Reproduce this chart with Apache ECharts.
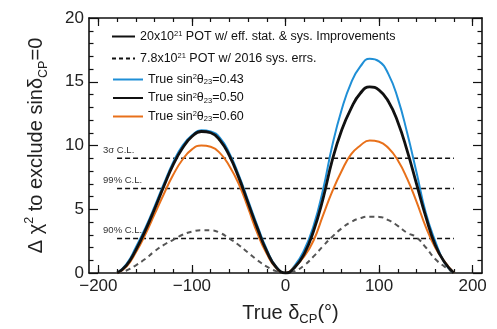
<!DOCTYPE html>
<html><head><meta charset="utf-8">
<script src="https://cdn.jsdelivr.net/npm/echarts@6/dist/echarts.min.js"></script>
<style>html,body{margin:0;padding:0;background:#fff;overflow:hidden}#c{width:497px;height:329px}</style>
</head><body><div id="c"></div>
<script>
// True delta_CP (degrees)
const delta = [-180,-170,-160,-150,-140,-130,-120,-110,-100,-90,-80,-70,-60,-50,-40,-30,-20,-10,0,10,20,30,40,50,60,70,80,90,100,110,120,130,140,150,160,170,180];
// 20x10^21 POT, true sin^2 theta23 = 0.43
const blue043 = [0,0.7,2.0,3.5,5.2,7.0,8.7,10.0,10.8,11.2,11.1,10.6,9.4,7.7,5.7,3.7,1.85,0.5,0,0.6,1.8,3.7,6.5,10.0,12.8,14.9,16.2,16.8,16.6,15.6,13.7,11.0,7.9,4.7,2.5,0.8,0];
// 20x10^21 POT, true sin^2 theta23 = 0.50
const black050 = [0,0.6,1.8,3.3,5.0,6.8,8.5,9.8,10.7,11.1,11.0,10.4,9.2,7.5,5.5,3.5,1.7,0.45,0,0.45,1.5,3.3,5.8,8.85,11.2,12.9,14.1,14.6,14.35,13.45,11.85,9.6,7.0,4.4,2.2,0.85,0];
// 20x10^21 POT, true sin^2 theta23 = 0.60
const orange060 = [0,0.5,1.6,3.0,4.6,6.2,7.7,8.9,9.7,10.0,9.9,9.4,8.4,7.0,5.1,3.1,1.5,0.4,0,0.5,1.3,2.55,4.5,6.4,8.0,9.3,10.0,10.4,10.3,9.8,8.85,7.4,5.6,3.6,2.0,0.9,0];
// 7.8x10^21 POT w/ 2016 sys. errs.
const dashed78 = [0,0.2,0.6,1.1,1.7,2.2,2.6,3.0,3.25,3.35,3.35,3.15,2.7,2.2,1.6,1.0,0.5,0.15,0,0.15,0.6,1.3,2.1,2.85,3.5,4.0,4.3,4.42,4.4,4.15,3.7,3.15,2.8,2.0,1.1,0.5,0];
// Confidence levels
const clLevels = [9, 6.63, 2.71];
const clLabels = ['3\u03c3 C.L.', '99% C.L.', '90% C.L.'];
const clRange = [-180, 180];
// Axis ticks
const xMajor = [-200,-100,0,100,200];
const xMinor = [-200,-180,-160,-140,-120,-100,-80,-60,-40,-20,0,20,40,60,80,100,120,140,160,180,200];
const legendNames = ['a','b','c','d','e'];
const legendTexts = [
  '20x10{sup|21} POT w/ eff. stat. & sys. Improvements',
  '7.8x10{sup|21} POT w/ 2016 sys. errs.',
  'True sin{sup|2}\u03b8{sub|23}=0.43',
  'True sin{sup|2}\u03b8{sub|23}=0.50',
  'True sin{sup|2}\u03b8{sub|23}=0.60'
];

const FONT = '"Liberation Sans", Arial, sans-serif';
const AX = '#111';
const pairs = arr => delta.map((d, i) => [d, arr[i]]);
const legendMap = {};
legendNames.forEach((n, i) => legendMap[n] = legendTexts[i]);
const legendRich = {
  sup: {fontSize: 7.5, verticalAlign: 'top', fontFamily: FONT, color: '#111', lineHeight: 13},
  sub: {fontSize: 7.5, verticalAlign: 'bottom', fontFamily: FONT, color: '#111', lineHeight: 13}
};

const series = [];
clLevels.forEach((lv, i) => {
  series.push({
    type: 'line', name: 'cl' + i, xAxisIndex: 0, yAxisIndex: 0,
    symbol: 'circle', symbolSize: 0.01, showSymbol: true, silent: true,
    lineStyle: {color: '#111', width: 1.5, type: [5, 3]},
    itemStyle: {color: '#111'},
    data: [
      {value: [clRange[0], lv], label: {show: true, formatter: clLabels[i], position: [-14, -13], fontSize: 9.5, fontFamily: FONT, color: '#333'}},
      {value: [clRange[1], lv]}
    ]
  });
});
series.push({type: 'line', name: 'a', data: [], symbol: 'none', lineStyle: {color: '#111', width: 1.5}, itemStyle: {color: '#111'}});
series.push({type: 'line', name: 'b', data: [], symbol: 'none', lineStyle: {color: '#111', width: 1.5, type: [4, 3]}, itemStyle: {color: '#111'}});
series.push({type: 'line', name: 'dash', data: pairs(dashed78), symbol: 'none', smooth: true, lineStyle: {color: '#555', width: 2, type: [5, 4]}});
series.push({type: 'line', name: 'c', data: pairs(blue043), symbol: 'none', smooth: true, lineStyle: {color: '#1f8fd6', width: 2}, itemStyle: {color: '#1f8fd6'}});
series.push({type: 'line', name: 'e', data: pairs(orange060), symbol: 'none', smooth: true, lineStyle: {color: '#e8701a', width: 2}, itemStyle: {color: '#e8701a'}});
series.push({type: 'line', name: 'd', data: pairs(black050), symbol: 'none', smooth: true, lineStyle: {color: '#111', width: 2.8}, itemStyle: {color: '#111'}});

const tickLS = {color: AX, width: 1.2};
function xAx(pos, len, ticks, main) {
  return {
    type: 'value', min: -210, max: 210, position: pos,
    axisLine: {show: main, onZero: false, lineStyle: {color: AX, width: 1.6}},
    axisTick: {show: true, inside: true, length: len, customValues: ticks, lineStyle: tickLS},
    axisLabel: main && pos === 'bottom' ? {show: true, customValues: xMajor, formatter: v => String(v).replace('-', '\u2212'), fontSize: 17, fontFamily: FONT, color: '#222', margin: 5} : {show: false},
    splitLine: {show: false},
    name: main && pos === 'bottom' ? 'True \u03b4{sub|CP}(\u00b0)' : '',
    nameLocation: 'middle', nameGap: 27,
    nameTextStyle: {fontSize: 20, fontFamily: FONT, color: '#222', padding: [0, 0, 0, 10],
      rich: {sub: {fontSize: 13, verticalAlign: 'bottom', fontFamily: FONT, color: '#222', lineHeight: 26}}}
  };
}
function yAx(pos, main) {
  return {
    type: 'value', min: 0, max: 20, interval: 5, position: pos,
    axisLine: {show: true, onZero: false, lineStyle: {color: AX, width: 1.6}},
    axisTick: {show: true, inside: true, length: 9, lineStyle: tickLS},
    minorTick: {show: true, splitNumber: 5, length: 4.5, lineStyle: tickLS},
    axisLabel: main ? {show: true, fontSize: 17, fontFamily: FONT, color: '#222', margin: 5} : {show: false},
    splitLine: {show: false},
    name: main ? '\u0394 \u03c7{sup|2} to exclude sin\u03b4{sub|CP}=0' : '',
    nameLocation: 'middle', nameGap: 39,
    nameTextStyle: {fontSize: 20, fontFamily: FONT, color: '#222',
      rich: {
        sup: {fontSize: 12.5, verticalAlign: 'top', fontFamily: FONT, color: '#222', lineHeight: 27},
        sub: {fontSize: 12.5, verticalAlign: 'bottom', fontFamily: FONT, color: '#222', lineHeight: 27}
      }}
  };
}
const legendItemStyle = {color: 'rgba(0,0,0,0)', borderColor: 'rgba(0,0,0,0)', borderWidth: 0, opacity: 0};
const legendText = {fontSize: 12.5, fontFamily: FONT, color: '#111', lineHeight: 13, rich: legendRich};

const option = {
  animation: false,
  backgroundColor: '#fff',
  grid: {left: 89, right: 15, top: 18, bottom: 56, containLabel: false, outerBoundsMode: 'none'},
  xAxis: [xAx('bottom', 8, xMajor, true), xAx('bottom', 4, xMinor, false), xAx('top', 8, xMajor, true), xAx('top', 4, xMinor, false)],
  yAxis: [yAx('left', true), yAx('right', false)],
  legend: [
    {data: ['a', 'b'], orient: 'vertical', left: 106, top: 25, itemWidth: 23, itemHeight: 10, itemGap: 9,
     formatter: n => legendMap[n], selectedMode: false, itemStyle: legendItemStyle, textStyle: legendText},
    {data: ['c', 'd', 'e'], orient: 'vertical', left: 107, top: 68, itemWidth: 30, itemHeight: 10, itemGap: 5.5,
     formatter: n => legendMap[n], selectedMode: false, itemStyle: legendItemStyle, textStyle: legendText}
  ],
  series: series
};
const chart = echarts.init(document.getElementById('c'));
chart.setOption(option);
</script></body></html>
